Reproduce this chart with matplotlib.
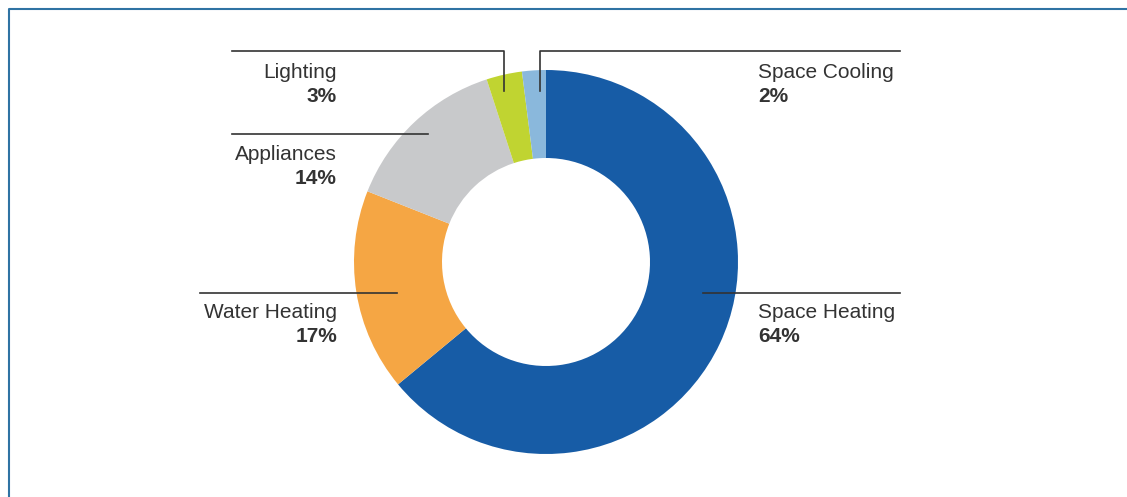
import matplotlib.pyplot as plt

plt.rcParams['font.family'] = ['Liberation Sans', 'DejaVu Sans']

# data
categories = ['Space Heating', 'Water Heating', 'Appliances', 'Lighting', 'Space Cooling']
shares = [64, 17, 14, 3, 2]
colors = ['#175ca6', '#f5a644', '#c8c9cb', '#c0d431', '#8ab8dc']

W, H = 1127, 497
fig = plt.figure(figsize=(W / 100, H / 100), dpi=100)
ax = fig.add_axes([0, 0, 1, 1])


def py(y):
    # pixel row (from top) to data y (upward)
    return H - y


cx, cy = 546, py(262)
ax.pie(shares, colors=colors, startangle=90, counterclock=False,
       center=(cx, cy), radius=192,
       wedgeprops=dict(width=88, linewidth=0))

# frame
ax.plot([9, 9, W + 5], [py(H + 5), py(9), py(9)], color='#2f73a3', lw=1.5, solid_capstyle='butt')

line_kw = dict(color='#333333', lw=1.2)
txt_kw = dict(fontsize=15, color='#333333', va='center')

# leader lines: (path in pixel coords), label anchor, alignment
labels = {
    'Space Cooling': ([(540, 91), (540, 51), (900, 51)], (758, 73), 'left'),
    'Lighting': ([(504, 91), (504, 51), (232, 51)], (337, 73), 'right'),
    'Appliances': ([(428, 134), (232, 134)], (337, 154), 'right'),
    'Water Heating': ([(397, 293), (200, 293)], (337, 313), 'right'),
    'Space Heating': ([(703, 293), (900, 293)], (758, 313), 'left'),
}

for name, share in zip(categories, shares):
    path, (tx, ty), ha = labels[name]
    ax.plot([p[0] for p in path], [py(p[1]) for p in path], **line_kw)
    ax.text(tx, py(ty), name, ha=ha, **txt_kw)
    ax.text(tx, py(ty + 24), f'{share}%', ha=ha, fontweight='bold', **txt_kw)

ax.set_xlim(0, W)
ax.set_ylim(0, H)
ax.set_aspect('equal')
ax.axis('off')

fig.savefig('out.png', dpi=100, facecolor='white')
